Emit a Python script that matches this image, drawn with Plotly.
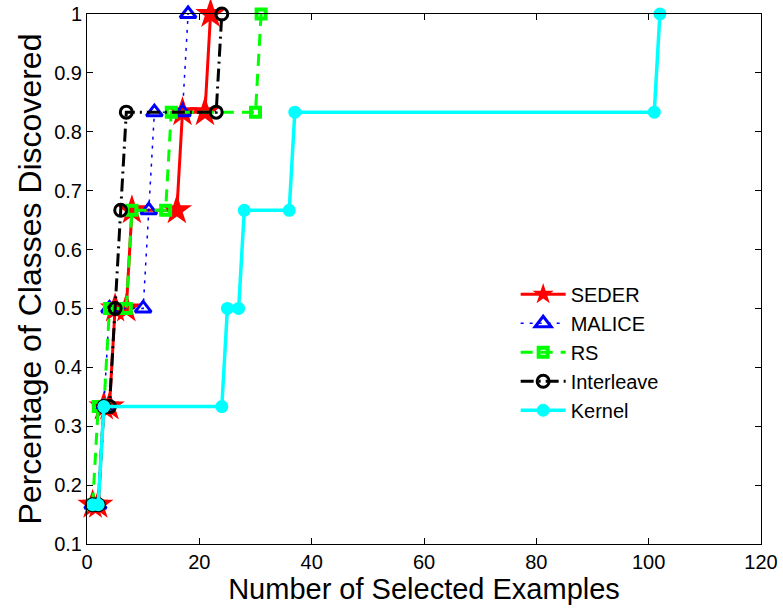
import plotly.graph_objects as go

# Data
seder_x = [1, 2, 3, 4, 5, 7, 8, 16, 17, 21, 22]
seder_y = [1/6, 1/6, 2/6, 2/6, 3/6, 3/6, 4/6, 4/6, 5/6, 5/6, 1]

malice_x = [1, 2, 3, 4, 10, 11, 12, 17, 18]
malice_y = [1/6, 1/6, 2/6, 3/6, 3/6, 4/6, 5/6, 5/6, 1]

rs_x = [1, 2, 3, 4, 7, 8, 14, 15, 30, 31]
rs_y = [1/6, 2/6, 2/6, 3/6, 3/6, 4/6, 4/6, 5/6, 5/6, 1]

inter_x = [1, 2, 3, 4, 5, 6, 7, 23, 24]
inter_y = [1/6, 1/6, 2/6, 2/6, 3/6, 4/6, 5/6, 5/6, 1]

kernel_x = [1, 2, 3, 24, 25, 27, 28, 36, 37, 101, 102]
kernel_y = [1/6, 1/6, 2/6, 2/6, 3/6, 3/6, 4/6, 4/6, 5/6, 5/6, 1]

x_ticks = [0, 20, 40, 60, 80, 100, 120]
y_ticks = [0.1, 0.2, 0.3, 0.4, 0.5, 0.6, 0.7, 0.8, 0.9, 1.0]
y_ticktext = ["0.1", "0.2", "0.3", "0.4", "0.5", "0.6", "0.7", "0.8", "0.9", "1"]

FONT = "Liberation Sans, Arial, Helvetica"

fig = go.Figure()

fig.add_trace(go.Scatter(
    x=seder_x, y=seder_y, name="SEDER", mode="lines+markers",
    line=dict(color="#ff0000", width=3, dash="solid"),
    marker=dict(symbol="star", size=23, color="#ff0000", line=dict(width=0)),
    cliponaxis=False, legendgroup="a"))

fig.add_trace(go.Scatter(
    x=malice_x, y=malice_y, name="MALICE", mode="lines+markers",
    line=dict(color="#0000ff", width=1.5, dash="3px,6px"),
    marker=dict(symbol="triangle-up-open", size=14, color="#0000ff", line=dict(width=3, color="#0000ff")),
    cliponaxis=False, legendgroup="b"))

fig.add_trace(go.Scatter(
    x=rs_x, y=rs_y, name="RS", mode="lines+markers",
    line=dict(color="#00ff00", width=3, dash="12px,8px"),
    marker=dict(symbol="square-open", size=9, color="#00ff00", line=dict(width=4, color="#00ff00")),
    cliponaxis=False, legendgroup="c"))

fig.add_trace(go.Scatter(
    x=inter_x, y=inter_y, name="Interleave", mode="lines+markers",
    line=dict(color="#000000", width=3, dash="13px,5px,2px,5px"),
    marker=dict(symbol="circle-open", size=12, color="#000000", line=dict(width=3, color="#000000")),
    cliponaxis=False, legendgroup="d"))

fig.add_trace(go.Scatter(
    x=kernel_x, y=kernel_y, name="Kernel", mode="lines+markers",
    line=dict(color="#00ffff", width=3.5, dash="solid"),
    marker=dict(symbol="circle", size=13, color="#00ffff", line=dict(width=0)),
    cliponaxis=False, legendgroup="e"))

axis_common = dict(
    showline=True, linecolor="black", linewidth=1, mirror="ticks",
    ticks="inside", ticklen=6, tickcolor="black", tickwidth=1,
    showgrid=False, zeroline=False, automargin=False,
    tickfont=dict(family=FONT, size=20, color="black"),
)

fig.update_xaxes(
    range=[0, 120], tickvals=x_ticks,
    title=dict(text="Number of Selected Examples", font=dict(family=FONT, size=29, color="black"), standoff=2),
    **axis_common)
fig.update_yaxes(
    range=[0.1, 1.0], tickvals=y_ticks, ticktext=y_ticktext,
    title=dict(text="Percentage of Classes Discovered", font=dict(family=FONT, size=32, color="black"), standoff=2),
    **axis_common)

fig.update_layout(
    width=783, height=613,
    margin=dict(l=87, r=22, t=14, b=69),
    paper_bgcolor="white", plot_bgcolor="white",
    font=dict(family=FONT, color="black"),
    legend=dict(x=0.636, y=0.508, xanchor="left", yanchor="top",
                font=dict(family=FONT, size=20, color="black"),
                bgcolor="rgba(255,255,255,0)", tracegroupgap=0, itemwidth=45),
)

fig.write_html("out.html")
